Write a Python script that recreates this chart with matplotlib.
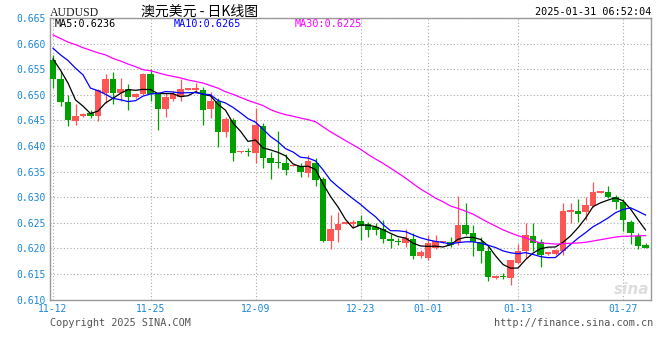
import numpy as np
import pandas as pd
import matplotlib
matplotlib.use('Agg')
import matplotlib.pyplot as plt

# daily candles, 2024-11-12 .. 2025-01-30 (one per calendar day)
opens = [0.6568, 0.6530, 0.6485, 0.6449, 0.6458, 0.6464, 0.6459, 0.6503, 0.6531, 0.6504,
         0.6511, 0.6496, 0.6501, 0.6540, 0.6504, 0.6472, 0.6492, 0.6496, 0.6510, 0.6510,
         0.6509, 0.6472, 0.6488, 0.6428, 0.6451, 0.6388, 0.6390, 0.6387, 0.6439, 0.6377,
         0.6369, 0.6366, 0.6361, 0.6361, 0.6348, 0.6367, 0.6336, 0.6215, 0.6236, 0.6248,
         0.6248, 0.6254, 0.6247, 0.6241, 0.6237, 0.6219, 0.6214, 0.6211, 0.6218, 0.6185,
         0.6182, 0.6201, 0.6212, 0.6213, 0.6210, 0.6246, 0.6230, 0.6212, 0.6195, 0.6142,
         0.6146, 0.6143, 0.6172, 0.6194, 0.6225, 0.6213, 0.6189, 0.6189, 0.6194, 0.6272,
         0.6273, 0.6272, 0.6283, 0.6309, 0.6310, 0.6300, 0.6290, 0.6252, 0.6225, 0.6207]
closes = [0.6531, 0.6485, 0.6451, 0.6459, 0.6463, 0.6459, 0.6509, 0.6531, 0.6504, 0.6511,
          0.6496, 0.6502, 0.6540, 0.6502, 0.6472, 0.6496, 0.6501, 0.6511, 0.6511, 0.6511,
          0.6470, 0.6487, 0.6428, 0.6453, 0.6386, 0.6390, 0.6388, 0.6441, 0.6376, 0.6367,
          0.6366, 0.6354, 0.6362, 0.6350, 0.6371, 0.6334, 0.6214, 0.6238, 0.6248, 0.6249,
          0.6250, 0.6244, 0.6235, 0.6235, 0.6219, 0.6214, 0.6212, 0.6221, 0.6185, 0.6192,
          0.6210, 0.6214, 0.6213, 0.6206, 0.6246, 0.6229, 0.6213, 0.6194, 0.6145, 0.6147,
          0.6144, 0.6177, 0.6195, 0.6227, 0.6211, 0.6187, 0.6192, 0.6197, 0.6273, 0.6273,
          0.6267, 0.6285, 0.6310, 0.6310, 0.6300, 0.6290, 0.6255, 0.6230, 0.6205, 0.6200]
highs = [0.6578, 0.6547, 0.6500, 0.6482, 0.6465, 0.6470, 0.6511, 0.6541, 0.6545, 0.6533,
         0.6522, 0.6504, 0.6543, 0.6550, 0.6506, 0.6503, 0.6508, 0.6530, 0.6512, 0.6523,
         0.6516, 0.6506, 0.6493, 0.6457, 0.6454, 0.6391, 0.6396, 0.6474, 0.6444, 0.6389,
         0.6430, 0.6384, 0.6363, 0.6366, 0.6382, 0.6376, 0.6340, 0.6265, 0.6272, 0.6250,
         0.6255, 0.6265, 0.6252, 0.6250, 0.6255, 0.6228, 0.6220, 0.6238, 0.6231, 0.6196,
         0.6226, 0.6226, 0.6214, 0.6222, 0.6303, 0.6289, 0.6246, 0.6222, 0.6205, 0.6148,
         0.6151, 0.6178, 0.6209, 0.6249, 0.6249, 0.6218, 0.6193, 0.6198, 0.6288, 0.6288,
         0.6296, 0.6301, 0.6330, 0.6311, 0.6321, 0.6305, 0.6297, 0.6255, 0.6230, 0.6211]
lows = [0.6513, 0.6479, 0.6440, 0.6441, 0.6456, 0.6455, 0.6449, 0.6484, 0.6483, 0.6487,
        0.6470, 0.6494, 0.6500, 0.6487, 0.6431, 0.6457, 0.6487, 0.6487, 0.6509, 0.6506,
        0.6441, 0.6454, 0.6399, 0.6418, 0.6371, 0.6387, 0.6380, 0.6366, 0.6357, 0.6336,
        0.6358, 0.6343, 0.6360, 0.6340, 0.6339, 0.6322, 0.6212, 0.6198, 0.6213, 0.6247,
        0.6239, 0.6216, 0.6223, 0.6227, 0.6210, 0.6200, 0.6207, 0.6203, 0.6179, 0.6181,
        0.6177, 0.6199, 0.6211, 0.6203, 0.6207, 0.6226, 0.6185, 0.6171, 0.6137, 0.6141,
        0.6140, 0.6129, 0.6170, 0.6181, 0.6194, 0.6163, 0.6188, 0.6188, 0.6187, 0.6250,
        0.6252, 0.6255, 0.6280, 0.6308, 0.6298, 0.6276, 0.6234, 0.6209, 0.6198, 0.6200]

# moving averages before the window is full (history not shown)
ma5_head = [0.6570, 0.6548, 0.6523, 0.6490]
ma10_head = [0.6591, 0.6578, 0.6567, 0.6552, 0.6539, 0.6513, 0.6508, 0.6501, 0.6493]
ma30_head = [0.6617, 0.6610, 0.6603, 0.6598, 0.6592, 0.6587, 0.6582, 0.6578, 0.6571, 0.6566,
             0.6560, 0.6555, 0.6549, 0.6547, 0.6543, 0.6539, 0.6536, 0.6533, 0.6529, 0.6526,
             0.6523, 0.6518, 0.6513, 0.6506, 0.6501, 0.6495, 0.6489, 0.6484, 0.6479]

tick_pos = [0, 13, 27, 41, 50, 62, 76]
tick_labels = ['11-12', '11-25', '12-09', '12-23', '01-01', '01-13', '01-27']
y_ticks = [0.610, 0.615, 0.620, 0.625, 0.630, 0.635, 0.640, 0.645, 0.650, 0.655, 0.660, 0.665]

UP = '#ff5555'
DOWN = '#00a000'
LBL = '#1a88d8'


def moving_avg(vals, n, head):
    m = pd.Series(vals).rolling(n).mean().to_numpy()
    m[:n - 1] = head
    return m


o = np.array(opens)
c = np.array(closes)
x = np.arange(len(o))
cols = [UP if cc >= oo else DOWN for oo, cc in zip(o, c)]

fig = plt.figure(figsize=(6.6, 3.6), dpi=100)
ax = fig.add_axes([50 / 660, 1 - 299.6 / 360, 601 / 660, 281.6 / 360])

ax.vlines(x, lows, highs, colors=cols, linewidth=0.9, zorder=2)
bottom = np.minimum(o, c)
height = np.maximum(np.abs(c - o), 0.00028)
ax.bar(x, height, bottom=bottom, width=0.85, color=cols, linewidth=0, zorder=3)

ax.plot(x, moving_avg(closes, 5, ma5_head), color='black', lw=0.9, zorder=4)
ax.plot(x, moving_avg(closes, 10, ma10_head), color='#0000ff', lw=0.9, zorder=4)
ax.plot(x, moving_avg(closes, 30, ma30_head), color='#ff00ff', lw=0.9, zorder=4)

ax.set_xlim(-0.4, 79.73)
ax.set_ylim(0.610, 0.665)
ax.set_yticks(y_ticks)
ax.set_yticklabels([f'{v:.3f}' for v in y_ticks])
ax.set_xticks(tick_pos)
ax.set_xticklabels(tick_labels)
ax.tick_params(length=0, labelsize=7, labelcolor=LBL, pad=3)
for lab in ax.get_xticklabels() + ax.get_yticklabels():
    lab.set_family('DejaVu Sans Mono')
ax.grid(True, color='#aaaaaa', linestyle=(0, (1, 2)), linewidth=0.8)
for s in ax.spines.values():
    s.set_color('#999999')
    s.set_linewidth(1)

mono = dict(family='DejaVu Sans Mono', fontsize=7.3, va='center')
ax.text(0.007, 0.98, 'MA5:0.6236', transform=ax.transAxes, color='black', **mono)
ax.text(0.206, 0.98, 'MA10:0.6265', transform=ax.transAxes, color='#0000ff', **mono)
ax.text(0.407, 0.98, 'MA30:0.6225', transform=ax.transAxes, color='#ff00ff', **mono)


def px(xp, yp):
    return xp / 660, 1 - yp / 360


fig.text(*px(200, 12), '澳元美元 - 日K线图', ha='center', va='center', fontsize=10,
         family=['Noto Sans CJK SC', 'DejaVu Sans'])
fig.text(*px(50, 13), 'AUDUSD', ha='left', va='center', fontsize=8.5,
         family='Liberation Serif', color='#222222')
fig.text(*px(651, 12), '2025-01-31 06:52:04', ha='right', color='black', **mono)
fig.text(*px(50, 323), 'Copyright 2025 SINA.COM', ha='left', color='#555555', **mono)
fig.text(*px(653, 323), 'http://finance.sina.com.cn', ha='right', color='#555555', **mono)
fig.text(*px(632, 290), 'sina', ha='center', va='center', fontsize=11, color='#dddddd',
         fontweight='bold', style='italic')

fig.savefig('out.png', dpi=100)
